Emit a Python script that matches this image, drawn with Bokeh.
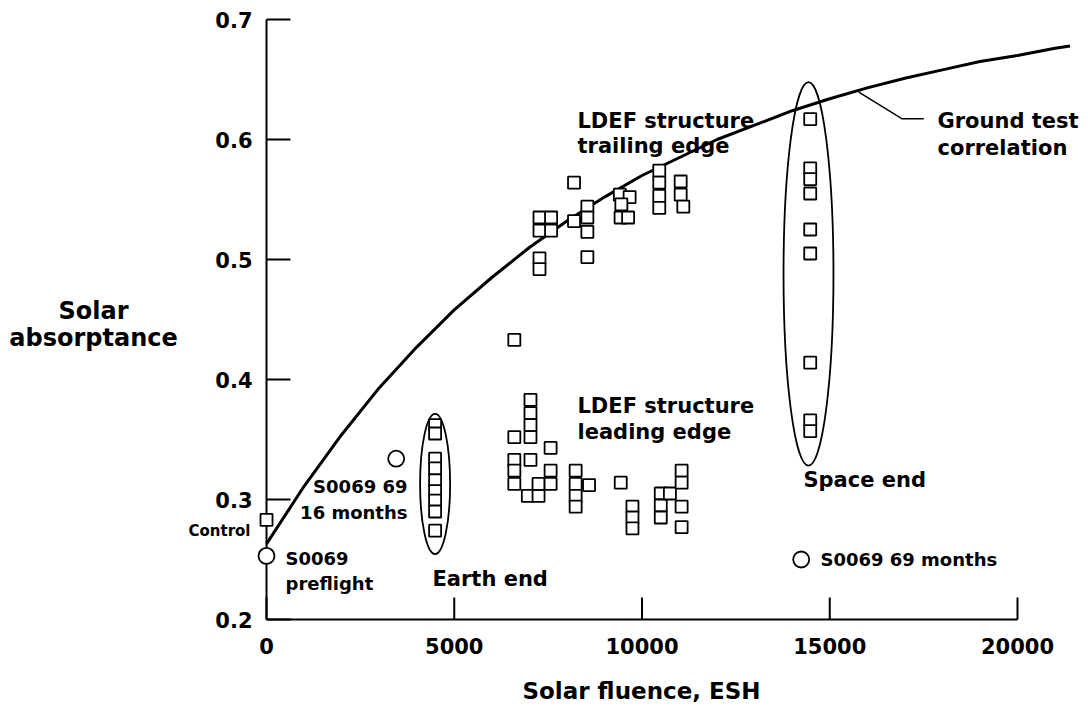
from bokeh.plotting import figure
from bokeh.models import Label, Range1d
from bokeh.embed import file_html
from bokeh.resources import INLINE
from bokeh.core.properties import value

# ---- data ----
trail_x = [7270, 7580, 7270, 7580, 7270, 7270, 8190, 8190, 8545, 8545, 8545, 8545,
           9410, 9670, 9450, 9430, 9630, 10460, 10460, 10460, 10460, 11030, 11030, 11100]
trail_y = [0.535, 0.535, 0.524, 0.524, 0.501, 0.492, 0.564, 0.532, 0.544, 0.535, 0.523, 0.502,
           0.554, 0.552, 0.546, 0.535, 0.535, 0.574, 0.564, 0.553, 0.543, 0.565, 0.554, 0.544]

lead_x = [6600, 6600, 6600, 6600, 6600, 7030, 7030, 7030, 7030, 7030, 6960, 7245, 7245,
          7566, 7566, 7566, 8233, 8233, 8233, 8233, 8590, 9434, 9746, 9746, 9746,
          10500, 10500, 10500, 10743, 11055, 11055, 11055, 11055]
lead_y = [0.433, 0.352, 0.333, 0.324, 0.313, 0.383, 0.372, 0.362, 0.352, 0.333, 0.303, 0.303, 0.313,
          0.343, 0.324, 0.313, 0.324, 0.313, 0.303, 0.294, 0.312, 0.314, 0.294, 0.285, 0.276,
          0.305, 0.295, 0.285, 0.305, 0.324, 0.314, 0.294, 0.277]

earth_x = [4490] * 9
earth_y = [0.362, 0.355, 0.334, 0.326, 0.316, 0.307, 0.299, 0.290, 0.274]

space_x = [14480] * 9
space_y = [0.617, 0.576, 0.567, 0.555, 0.525, 0.505, 0.414, 0.366, 0.357]

control_x = [0]
control_y = [0.283]

s0069_x = [0, 3454, 14240]
s0069_y = [0.253, 0.334, 0.250]

curve_x = [0, 1000, 2000, 3000, 4000, 5000, 6000, 7000, 8000, 9000, 10000, 11000,
           12000, 13000, 14000, 15000, 16000, 17000, 18000, 19000, 20000, 21000, 21400]
curve_y = [0.263, 0.311, 0.354, 0.393, 0.427, 0.458, 0.485, 0.510, 0.532, 0.552, 0.570, 0.585,
           0.600, 0.612, 0.624, 0.634, 0.643, 0.651, 0.658, 0.665, 0.670, 0.676, 0.678]

x_ticks = [0, 5000, 10000, 15000, 20000]
x_tick_labels = ["0", "5000", "10000", "15000", "20000"]
y_ticks = [0.2, 0.3, 0.4, 0.5, 0.6, 0.7]
y_tick_labels = ["0.2", "0.3", "0.4", "0.5", "0.6", "0.7"]

FONT = "DejaVu Sans"
PX_X = 1000 / 37.55   # data units per pixel (x)
PX_Y = 0.1 / 120      # data units per pixel (y)

W, H = 1088, 709
x0 = -266 * PX_X
y1 = 0.7 + 19 * PX_Y
p = figure(width=W, height=H,
           x_range=Range1d(x0, x0 + W * PX_X), y_range=Range1d(y1 - H * PX_Y, y1),
           x_axis_type=None, y_axis_type=None,
           output_backend="svg", toolbar_location=None, min_border=0)
p.grid.visible = False
p.outline_line_color = None
p.background_fill_color = "white"

xmin, xmax = x_ticks[0], x_ticks[-1]
ymin, ymax = y_ticks[0], y_ticks[-1]

# axes (drawn from tick arrays)
p.segment(x0=[xmin, xmin], y0=[ymin, ymin], x1=[xmin, xmax], y1=[ymax, ymin],
          line_color="black", line_width=2)
p.segment(x0=[xmin] * len(y_ticks), y0=y_ticks, x1=[xmin + 24 * PX_X] * len(y_ticks), y1=y_ticks,
          line_color="black", line_width=2)
p.segment(x0=x_ticks, y0=[ymin] * len(x_ticks), x1=x_ticks, y1=[ymin + 22 * PX_Y] * len(x_ticks),
          line_color="black", line_width=2)
p.text(x=[xmin - 14 * PX_X] * len(y_ticks), y=y_ticks, text=y_tick_labels,
       text_font=value(FONT), text_font_style="bold", text_font_size="21px",
       text_align="right", text_baseline="middle", text_color="black")
p.text(x=x_ticks, y=[ymin - 26 * PX_Y] * len(x_ticks), text=x_tick_labels,
       text_font=value(FONT), text_font_style="bold", text_font_size="21px",
       text_align="center", text_baseline="middle", text_color="black")

# curve
p.line(curve_x, curve_y, line_color="black", line_width=3)

# ellipses
p.ellipse(x=[4490], y=[0.313], width=[800], height=[0.117],
          fill_color=None, line_color="black", line_width=1.8)
p.ellipse(x=[14434], y=[0.488], width=[1330], height=[0.32],
          fill_color=None, line_color="black", line_width=1.8)

# leader for ground test correlation
p.line([15774, 16929, 17504], [0.6394, 0.6172, 0.6172], line_color="black", line_width=1.5)

sq = dict(marker="square", size=12, fill_color="white", line_color="black", line_width=1.8)
p.scatter(trail_x, trail_y, **sq)
p.scatter(lead_x, lead_y, **sq)
p.scatter(earth_x, earth_y, **sq)
p.scatter(space_x, space_y, **sq)
p.scatter(control_x, control_y, **sq)
p.scatter(s0069_x, s0069_y, marker="circle", size=16, fill_color="white",
          line_color="black", line_width=1.8)


def lab(x, y, text, size="21px", align="left"):
    p.add_layout(Label(x=x, y=y, text=text, text_font=FONT, text_font_style="bold",
                       text_font_size=size, text_align=align, text_baseline="middle",
                       text_color="black"))


lab(8282, 0.6158, "LDEF structure")
lab(8282, 0.595, "trailing edge")
lab(8282, 0.3783, "LDEF structure")
lab(8282, 0.356, "leading edge")
lab(17870, 0.6158, "Ground test")
lab(17870, 0.5933, "correlation")
lab(14300, 0.316, "Space end")
lab(4420, 0.234, "Earth end")
lab(3755, 0.311, "S0069 69", "18px", "right")
lab(3755, 0.289, "16 months", "18px", "right")
lab(-426, 0.274, "Control", "15px", "right")
lab(506, 0.2508, "S0069", "18px")
lab(506, 0.230, "preflight", "18px")
lab(14753, 0.250, "S0069 69 months", "18px")
lab(-4607, 0.4575, "Solar", "24px", "center")
lab(-4607, 0.435, "absorptance", "24px", "center")
lab(9987, 0.1408, "Solar fluence, ESH", "23px", "center")

open("out.html", "w").write(file_html(p, INLINE))
